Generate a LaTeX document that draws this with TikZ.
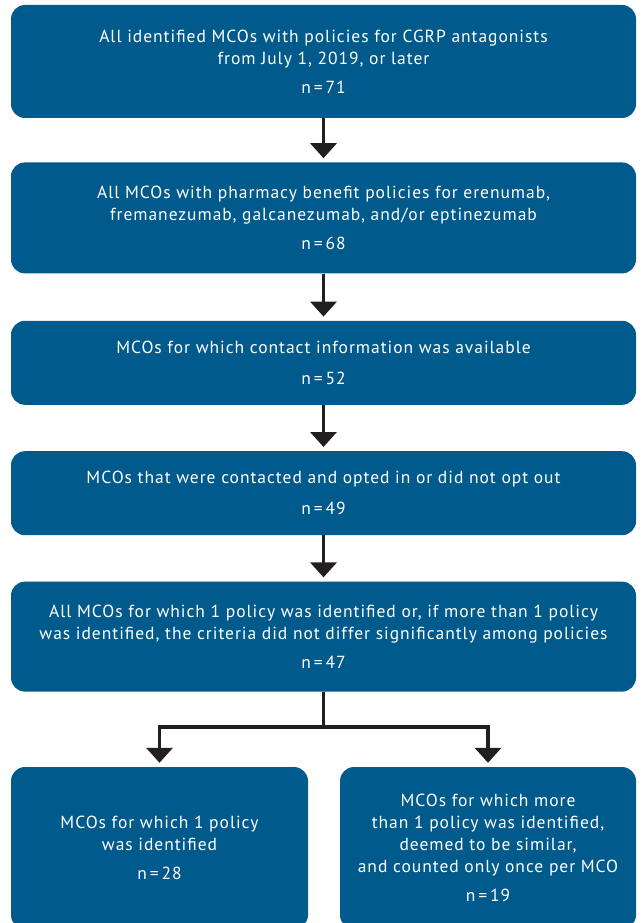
\documentclass[tikz,border=0pt]{standalone}
\usepackage{fontspec}
\setmainfont{PT Sans}[LetterSpace=5.5]
\usetikzlibrary{positioning,arrows.meta}
\definecolor{mcoblue}{RGB}{0,90,140}
\definecolor{arrowgray}{RGB}{35,31,32}

\begin{document}
\begin{tikzpicture}[
  node distance=45pt,
  mybox/.style={fill=mcoblue,rounded corners=14pt,text=white,align=center,
    font=\fontsize{17.5pt}{22pt}\selectfont,inner sep=0pt},
  myarrow/.style={draw=arrowgray,line width=3.5pt,
    -{Triangle[width=26pt,length=15pt]},shorten >=4pt}
]
\useasboundingbox (0,0) rectangle (641pt,-923pt);

\node[mybox,minimum width=625pt,minimum height=113pt] (all) at (323.5pt,-61.5pt)
  {All identified MCOs with policies for CGRP antagonists\\
   from July 1, 2019, or later\\[7pt] n\,=\,71};
\node[mybox,minimum width=625pt,minimum height=111pt,below=44pt of all] (pharm)
  {All MCOs with pharmacy benefit policies for erenumab,\\
   fremanezumab, galcanezumab, and/or eptinezumab\\[7pt] n\,=\,68};
\node[mybox,minimum width=625pt,minimum height=84pt,below=47pt of pharm] (contact)
  {MCOs for which contact information was available\\[9pt] n\,=\,52};
\node[mybox,minimum width=625pt,minimum height=84pt,below=46pt of contact] (optin)
  {MCOs that were contacted and opted in or did not opt out\\[9pt] n\,=\,49};
\node[mybox,minimum width=625pt,minimum height=110pt,below=46pt of optin] (crit)
  {All MCOs for which 1 policy was identified or, if more than 1 policy\\
   was identified, the criteria did not differ significantly among policies\\[7pt] n\,=\,47};

\node[mybox,minimum width=297pt,minimum height=162pt,
  below=75pt of crit.south west,anchor=north west] (one)
  {MCOs for which 1 policy\\ was identified\\[7pt] n\,=\,28};
\node[mybox,minimum width=296pt,minimum height=162pt,
  below=75pt of crit.south east,anchor=north east] (multi)
  {MCOs for which more\\ than 1 policy was identified,\\ deemed to be similar,\\
   and counted only once per MCO\\[7pt] n\,=\,19};

\coordinate[below=35pt of crit] (split);

\path (all) edge[myarrow] (pharm)
(pharm) edge[myarrow] (contact)
(contact) edge[myarrow] (optin)
(optin) edge[myarrow] (crit);
\draw[draw=arrowgray,line width=3.5pt] (crit.south) -- (split);
\draw[myarrow] (split) -| (one.north);
\draw[myarrow] (split) -| (multi.north);

\end{tikzpicture}
\end{document}
